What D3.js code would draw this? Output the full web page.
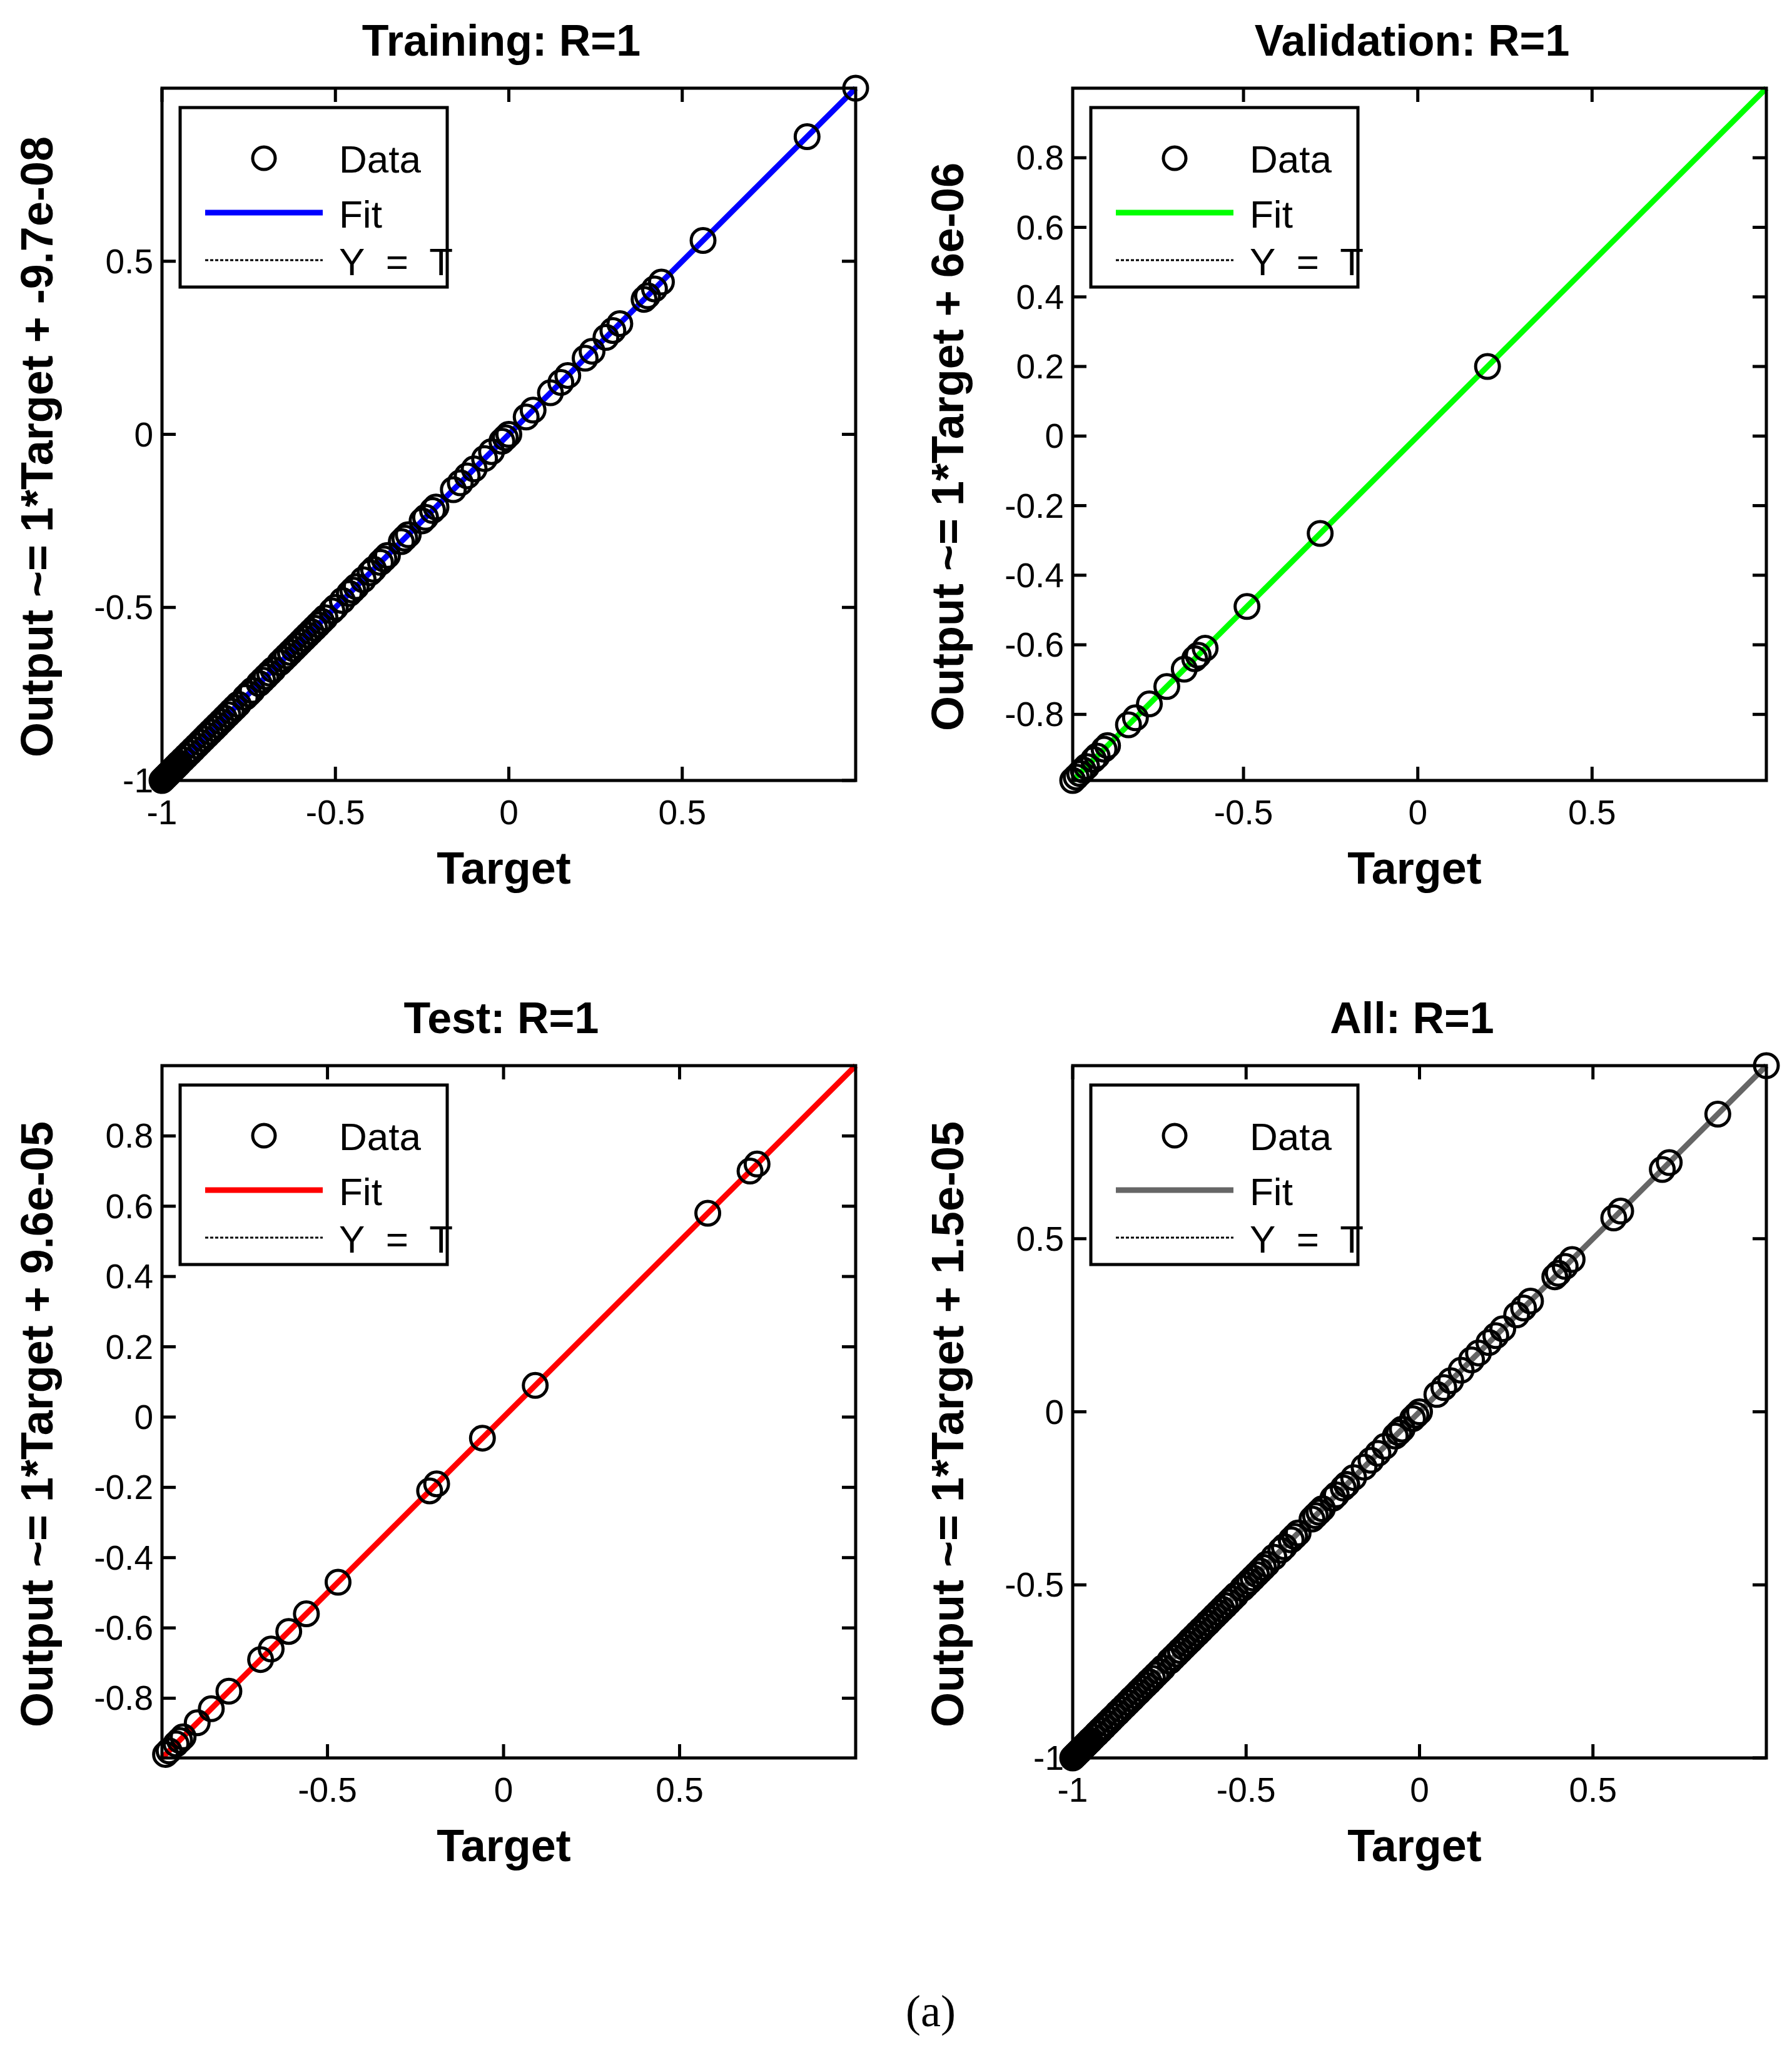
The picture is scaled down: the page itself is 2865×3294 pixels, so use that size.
<!DOCTYPE html>
<html><head><meta charset="utf-8">
<script src="https://cdn.jsdelivr.net/npm/d3@7"></script>
<style>body{margin:0;background:#fff}</style></head>
<body><svg id="c" width="2865" height="3294"></svg>
<script>
const trainTargets=[-1,-0.995,-0.99,-0.985,-0.98,-0.975,-0.97,-0.965,-0.96,-0.955,-0.95,-0.94,-0.93,-0.92,-0.91,-0.90,-0.89,-0.88,-0.87,-0.86,-0.85,-0.84,-0.83,-0.82,-0.81,-0.80,-0.79,-0.78,-0.76,-0.75,-0.74,-0.72,-0.71,-0.70,-0.69,-0.68,-0.66,-0.65,-0.64,-0.63,-0.62,-0.61,-0.60,-0.59,-0.58,-0.57,-0.56,-0.55,-0.54,-0.53,-0.51,-0.50,-0.48,-0.46,-0.45,-0.44,-0.42,-0.40,-0.39,-0.37,-0.36,-0.35,-0.31,-0.30,-0.29,-0.25,-0.24,-0.22,-0.21,-0.16,-0.14,-0.12,-0.10,-0.07,-0.05,-0.02,-0.01,0.0,0.05,0.07,0.12,0.15,0.17,0.22,0.24,0.28,0.30,0.32,0.39,0.40,0.42,0.44,0.56,0.86,1.0];
const trainOutputs=trainTargets.slice();
const valTargets=[-0.99,-0.98,-0.97,-0.96,-0.95,-0.93,-0.92,-0.90,-0.89,-0.83,-0.81,-0.77,-0.72,-0.67,-0.64,-0.63,-0.61,-0.49,-0.28,0.2];
const valOutputs=valTargets.slice();
const testTargets=[-0.96,-0.95,-0.93,-0.92,-0.91,-0.87,-0.83,-0.78,-0.69,-0.66,-0.61,-0.56,-0.47,-0.21,-0.19,-0.06,0.09,0.58,0.70,0.72];
const testOutputs=testTargets.slice();
const allTargets=trainTargets.concat(valTargets,testTargets);
const allOutputs=trainOutputs.concat(valOutputs,testOutputs);
const panels=[
 {title:"Training: R=1",ylab:"Output ~= 1*Target + -9.7e-08",color:"#0000ff",t:trainTargets,o:trainOutputs,xd:[-1,1],yd:[-1,1],xt:[-1,-0.5,0,0.5],yt:[-1,-0.5,0,0.5],left:259,top:141},
 {title:"Validation: R=1",ylab:"Output ~= 1*Target + 6e-06",color:"#00ff00",t:valTargets,o:valOutputs,xd:[-0.99,1],yd:[-0.99,1],xt:[-0.5,0,0.5],yt:[-0.8,-0.6,-0.4,-0.2,0,0.2,0.4,0.6,0.8],left:1715,top:141},
 {title:"Test: R=1",ylab:"Output ~= 1*Target + 9.6e-05",color:"#ff0000",t:testTargets,o:testOutputs,xd:[-0.97,1],yd:[-0.97,1],xt:[-0.5,0,0.5],yt:[-0.8,-0.6,-0.4,-0.2,0,0.2,0.4,0.6,0.8],left:259,top:1704},
 {title:"All: R=1",ylab:"Output ~= 1*Target + 1.5e-05",color:"#666666",t:allTargets,o:allOutputs,xd:[-1,1],yd:[-1,1],xt:[-1,-0.5,0,0.5],yt:[-1,-0.5,0,0.5],left:1715,top:1704}
];
const W=1109,H=1107,F="Arial, 'Liberation Sans', sans-serif";
const svg=d3.select("#c");
const fmt=v=>String(Math.round(v*10)/10);
panels.forEach(p=>{
 const g=svg.append("g").attr("transform",`translate(${p.left},${p.top})`);
 const x=d3.scaleLinear().domain(p.xd).range([0,W]);
 const y=d3.scaleLinear().domain(p.yd).range([H,0]);
 const tl=22;
 p.xt.forEach(v=>{g.append("line").attr("x1",x(v)).attr("x2",x(v)).attr("y1",H).attr("y2",H-tl).attr("stroke","#000").attr("stroke-width",5);
  g.append("line").attr("x1",x(v)).attr("x2",x(v)).attr("y1",0).attr("y2",tl).attr("stroke","#000").attr("stroke-width",5);
  g.append("text").attr("x",x(v)).attr("y",H+70).attr("text-anchor","middle").attr("font-family",F).attr("font-size",55).text(fmt(v));});
 p.yt.forEach(v=>{g.append("line").attr("y1",y(v)).attr("y2",y(v)).attr("x1",0).attr("x2",tl).attr("stroke","#000").attr("stroke-width",5);
  g.append("line").attr("y1",y(v)).attr("y2",y(v)).attr("x1",W).attr("x2",W-tl).attr("stroke","#000").attr("stroke-width",5);
  g.append("text").attr("x",-14).attr("y",y(v)+19).attr("text-anchor","end").attr("font-family",F).attr("font-size",55).text(fmt(v));});
 const lo=Math.max(p.xd[0],p.yd[0]),hi=Math.min(p.xd[1],p.yd[1]);
 g.append("line").attr("x1",x(lo)).attr("y1",y(lo)).attr("x2",x(hi)).attr("y2",y(hi)).attr("stroke","#000").attr("stroke-width",2.5).attr("stroke-dasharray","6,5");
 g.append("line").attr("x1",x(lo)).attr("y1",y(lo)).attr("x2",x(hi)).attr("y2",y(hi)).attr("stroke",p.color).attr("stroke-width",9);
 g.selectAll("circle.d").data(p.t.map((t,i)=>[t,p.o[i]])).enter().append("circle").attr("cx",d=>x(d[0])).attr("cy",d=>y(d[1])).attr("r",19).attr("fill","none").attr("stroke","#000").attr("stroke-width",5);
 g.append("rect").attr("width",W).attr("height",H).attr("fill","none").attr("stroke","#000").attr("stroke-width",5);
 const lg=g.append("g").attr("transform","translate(29,31)");
 lg.append("rect").attr("width",427).attr("height",287).attr("fill","#fff").attr("stroke","#000").attr("stroke-width",5);
 lg.append("circle").attr("cx",134).attr("cy",81).attr("r",18).attr("fill","none").attr("stroke","#000").attr("stroke-width",5);
 lg.append("line").attr("x1",40).attr("x2",228).attr("y1",168).attr("y2",168).attr("stroke",p.color).attr("stroke-width",9);
 lg.append("line").attr("x1",40).attr("x2",228).attr("y1",244).attr("y2",244).attr("stroke","#000").attr("stroke-width",3).attr("stroke-dasharray","5,3");
 [["Data",104],["Fit",192],["Y = T",268]].forEach(([t,yy])=>lg.append("text").attr("x",254).attr("y",yy).attr("font-family",F).attr("font-size",62).attr("xml:space","preserve").style("white-space","pre").text(t==="Y = T"?"Y  =  T":t));
 g.append("text").attr("x",W/2-12).attr("y",-52).attr("text-anchor","middle").attr("font-family",F).attr("font-weight","bold").attr("font-size",70).text(p.title);
 g.append("text").attr("x",W/2-8).attr("y",H+165).attr("text-anchor","middle").attr("font-family",F).attr("font-weight","bold").attr("font-size",72).text("Target");
 g.append("text").attr("transform",`translate(-175,${H/2+20}) rotate(-90)`).attr("text-anchor","middle").attr("font-family",F).attr("font-weight","bold").attr("font-size",72).text(p.ylab);
});
svg.append("text").attr("x",1488).attr("y",3240).attr("text-anchor","middle").attr("font-family","'Liberation Serif', 'DejaVu Serif', serif").attr("font-size",72).text("(a)");
</script></body></html>
